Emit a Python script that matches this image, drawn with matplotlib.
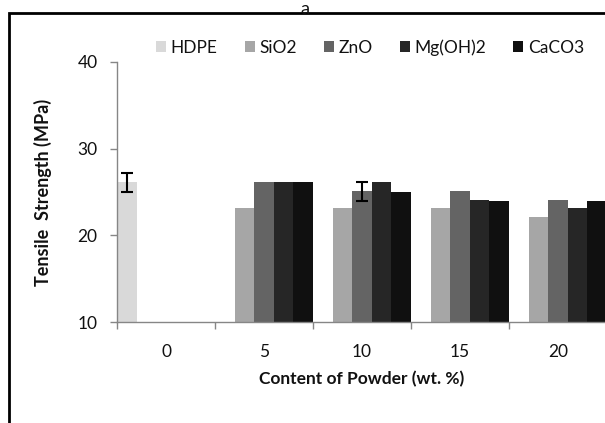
import matplotlib
matplotlib.use("Agg")
import matplotlib.pyplot as plt
from matplotlib.patches import Rectangle, Patch
import numpy as np

plt.rcParams['font.family'] = ['Lato', 'DejaVu Sans']

categories = ["0", "5", "10", "15", "20"]
series_names = ["HDPE", "SiO2", "ZnO", "Mg(OH)2", "CaCO3"]
colors = ["#d9d9d9", "#a6a6a6", "#646464", "#262626", "#101010"]

hdpe = [26.1, None, None, None, None]
sio2 = [None, 23.1, 23.1, 23.1, 22.1]
zno = [None, 26.2, 25.1, 25.1, 24.1]
mgoh2 = [None, 26.1, 26.1, 24.1, 23.1]
caco3 = [None, 26.1, 25.0, 24.0, 24.0]
series_values = [hdpe, sio2, zno, mgoh2, caco3]

hdpe_err = [1.1, None, None, None, None]
zno_err = [None, None, 1.1, None, None]
series_errors = [hdpe_err, None, zno_err, None, None]

W, H = 605, 423
fig = plt.figure(figsize=(W / 100, H / 100), dpi=100)
ax = fig.add_axes([117 / W, 101 / H, (607 - 117) / W, 260 / H])

bw = 0.2
x = np.arange(len(categories))
handles = []
for i, (name, vals, col) in enumerate(zip(series_names, series_values, colors)):
    xs = [x[j] + (i - 2) * bw for j, v in enumerate(vals) if v is not None]
    hs = [v for v in vals if v is not None]
    ax.bar(xs, hs, width=bw, bottom=0, color=col, edgecolor='none', zorder=2)
    errs = series_errors[i]
    if errs is not None:
        ex = [x[j] + (i - 2) * bw for j, e in enumerate(errs) if e is not None]
        ey = [vals[j] for j, e in enumerate(errs) if e is not None]
        ee = [e for e in errs if e is not None]
        ax.errorbar(ex, ey, yerr=ee, fmt='none', ecolor='black', elinewidth=1.5,
                    capsize=4.5, capthick=1.5, zorder=3)
    handles.append(Patch(facecolor=col, edgecolor='none', label=name))

ax.set_xlim(-0.5, len(categories) - 0.5)
ax.set_ylim(10, 40)
ax.set_yticks([10, 20, 30, 40])
ax.set_xticks(x)
ax.set_xticklabels(categories)
ax.set_xticks(np.arange(len(categories) + 1) - 0.5, minor=True)
ax.tick_params(axis='x', which='major', length=0, pad=16, labelsize=12.5, colors='#111111')
ax.tick_params(axis='x', which='minor', length=5, width=1, color='#868686', direction='out')
ax.tick_params(axis='y', length=5, width=1, color='#868686', direction='out', pad=9,
               labelsize=12.5, labelcolor='#111111')
for s in ['top', 'right']:
    ax.spines[s].set_visible(False)
for s in ['left', 'bottom']:
    ax.spines[s].set_color('#868686')
    ax.spines[s].set_linewidth(1)

ax.set_ylabel("Tensile  Strength (MPa)", fontsize=13, fontweight='bold', color='#111111', labelpad=18)
ax.set_xlabel("Content of Powder (wt. %)", fontsize=12.5, fontweight='bold', color='#111111', labelpad=8)

leg = ax.legend(handles=handles, loc='upper left', bbox_to_anchor=(156 / W, 1 - 39 / H),
                bbox_transform=fig.transFigure, ncol=5, frameon=False, fontsize=12.5,
                handlelength=0.6, handleheight=0.6, handletextpad=0.25, columnspacing=1.55,
                borderaxespad=0, borderpad=0)
for t in leg.get_texts():
    t.set_color('#111111')

fig.patches.append(Rectangle((9 / W, -0.2), 1.5, 1.2 - 13 / H, transform=fig.transFigure,
                             fill=False, edgecolor='black', linewidth=2, clip_on=False))
fig.text(305 / W, 1 - 0.5 / H, "a", ha='center', va='top', fontsize=13, color='#111111')

fig.savefig("out.png", dpi=100)
